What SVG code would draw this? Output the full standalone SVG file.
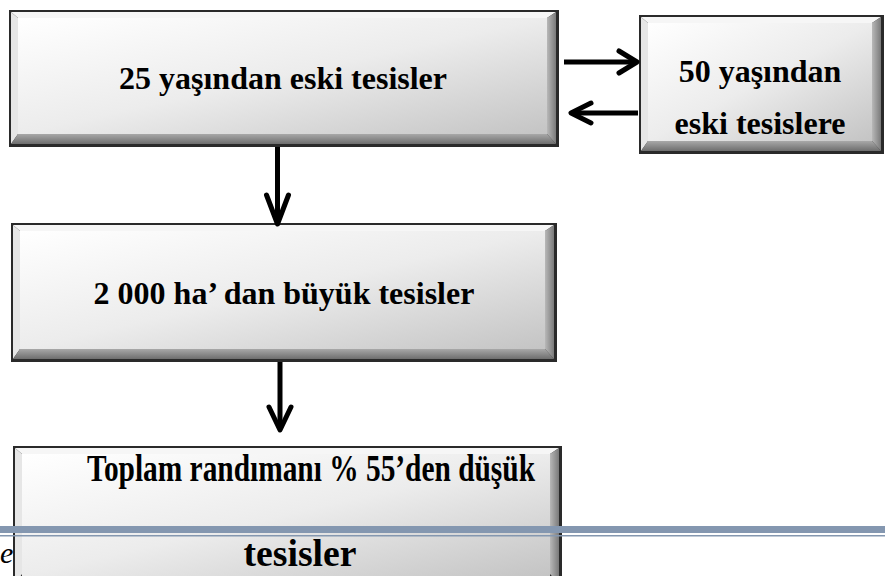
<svg xmlns="http://www.w3.org/2000/svg" width="885" height="576" viewBox="0 0 885 576">
<defs>
<linearGradient id="face" x1="0" y1="0" x2="1" y2="1">
<stop offset="0" stop-color="#ffffff"/>
<stop offset="0.5" stop-color="#ececec"/>
<stop offset="1" stop-color="#c4c4c4"/>
</linearGradient>
<linearGradient id="rside" x1="0" y1="0" x2="1" y2="0">
<stop offset="0" stop-color="#b8b8b8"/>
<stop offset="1" stop-color="#7a7a7a"/>
</linearGradient>
<linearGradient id="bside" x1="0" y1="0" x2="0" y2="1">
<stop offset="0" stop-color="#a8a8a8"/>
<stop offset="1" stop-color="#6e6e6e"/>
</linearGradient>
</defs>
<style>
.frame{fill:#2a2a2a;}
.top{fill:#f6f6f6;}
.left{fill:#e6e6e6;}
.right{fill:url(#rside);}
.bot{fill:url(#bside);}
.face{fill:url(#face);}
.t{font-family:"Liberation Serif","Times New Roman",serif;font-weight:bold;font-size:32px;fill:#000;text-anchor:middle;}
.arr{fill:none;stroke:#000;stroke-width:5;stroke-linecap:round;stroke-linejoin:round;}
.shaft{fill:none;stroke:#000;stroke-width:5;}
</style>

<g id="node-25">
<rect class="frame" x="9" y="10" width="550" height="137"/>
<polygon class="top" points="11,12 556,12 547,18 18,18"/>
<polygon class="left" points="11,12 18,18 18,134 11,144"/>
<polygon class="right" points="556,12 556,144 547,134 547,18"/>
<polygon class="bot" points="11,144 556,144 547,134 18,134"/>
<rect class="face" x="18" y="18" width="529" height="116"/>
<text class="t" x="283" y="89">25 yaşından eski tesisler</text>
</g>

<g id="node-50">
<rect class="frame" x="639" y="15" width="245" height="139"/>
<polygon class="top" points="641,17 881,17 872,23 648,23"/>
<polygon class="left" points="641,17 648,23 648,141 641,151"/>
<polygon class="right" points="881,17 881,151 872,141 872,23"/>
<polygon class="bot" points="641,151 881,151 872,141 648,141"/>
<rect class="face" x="648" y="23" width="224" height="118"/>
<text class="t" x="760" y="82">50 yaşından</text>
<text class="t" x="760" y="134">eski tesislere</text>
</g>

<g id="node-2000">
<rect class="frame" x="11" y="223" width="546" height="139"/>
<polygon class="top" points="13,225 554,225 545,231 20,231"/>
<polygon class="left" points="13,225 20,231 20,349 13,359"/>
<polygon class="right" points="554,225 554,359 545,349 545,231"/>
<polygon class="bot" points="13,359 554,359 545,349 20,349"/>
<rect class="face" x="20" y="231" width="525" height="118"/>
<text class="t" x="284" y="304">2 000 ha’ dan büyük tesisler</text>
</g>

<text x="0" y="563" style="font-family:'Liberation Serif','Times New Roman',serif;font-style:italic;font-size:30px;fill:#000">e</text>

<g id="node-toplam">
<rect class="frame" x="13" y="446" width="549" height="140"/>
<polygon class="top" points="15,448 559,448 550,454 22,454"/>
<polygon class="left" points="15,448 22,454 22,574 15,584"/>
<polygon class="right" points="559,448 559,584 550,574 550,454"/>
<rect class="face" x="22" y="454" width="528" height="122"/>
<text class="t" x="311" y="481" style="font-size:38px" textLength="448" lengthAdjust="spacingAndGlyphs">Toplam randımanı % 55’den düşük</text>
<text class="t" x="300" y="566" style="font-size:38px" textLength="113" lengthAdjust="spacingAndGlyphs">tesisler</text>
</g>

<g id="band">
<rect x="0" y="526" width="885" height="7" fill="#8497b0"/>
<rect x="0" y="535" width="885" height="1.5" fill="#8497b0"/>
</g>

<g id="connectors">
<path class="shaft" d="M277.5,147 V222"/>
<path class="arr" d="M266.5,195 L277.5,224 L288.5,195"/>
<path class="shaft" d="M280,362 V428"/>
<path class="arr" d="M269,407 L280,430 L291,407"/>
<path class="shaft" d="M564,62 H636"/>
<path class="arr" d="M619,51 L637,62 L619,73"/>
<path class="shaft" d="M638,113 H573"/>
<path class="arr" d="M591,103 L571,113 L591,123"/>
</g>
</svg>
